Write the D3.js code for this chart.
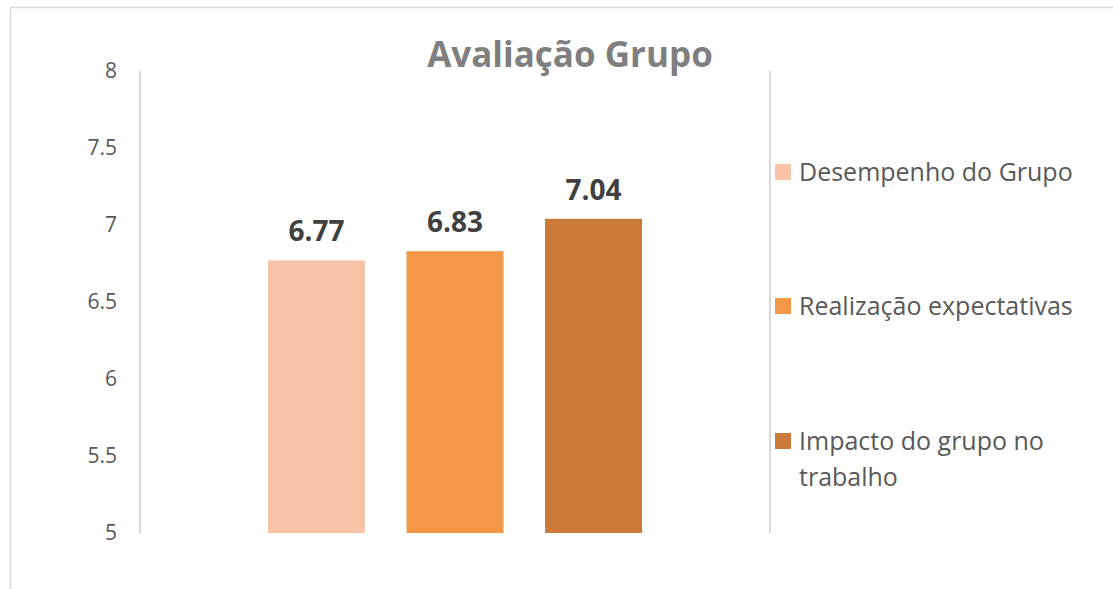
<!DOCTYPE html>
<html>
<head>
<meta charset="utf-8">
<script src="https://cdn.jsdelivr.net/npm/d3@7"></script>
<style>
  body { margin: 0; background: #fff; }
  svg { display: block; font-family: "Open Sans", sans-serif; }
</style>
</head>
<body>
<div id="chart"></div>
<script>
const series = ["Desempenho do Grupo", "Realização expectativas", "Impacto do grupo no trabalho"];
const values = [6.77, 6.83, 7.04];
const colors = ["#F9C3A8", "#F59748", "#CB7A3A"];
const yTicks = [5, 5.5, 6, 6.5, 7, 7.5, 8];
const legendLines = [["Desempenho do Grupo"], ["Realização expectativas"], ["Impacto do grupo no", "trabalho"]];

const W = 1113, H = 589;
const plot = { left: 140, right: 770, top: 71, bottom: 533 };

const svg = d3.select("#chart")
    .append("svg")
    .attr("width", W)
    .attr("height", H);

// chart border
svg.append("rect")
    .attr("x", 10.5).attr("y", 7.5)
    .attr("width", W + 20).attr("height", H + 20)
    .attr("fill", "#fff")
    .attr("stroke", "#d9d9d9")
    .attr("stroke-width", 1.5);

const y = d3.scaleLinear().domain([5, 8]).range([plot.bottom, plot.top]);
const x = d3.scaleBand()
    .domain(series)
    .range([plot.left, plot.right])
    .paddingInner(0.3)
    .paddingOuter(0.924);

// Y axis labels
const yAxis = svg.append("g")
    .attr("transform", `translate(${plot.left}, 0)`)
    .call(d3.axisLeft(y).tickValues(yTicks).tickSize(0).tickPadding(23).tickFormat(d => d));
yAxis.attr("font-family", null).attr("font-size", null);
yAxis.select(".domain").remove();
yAxis.selectAll("text")
    .style("font-size", "21px")
    .attr("fill", "#595959");

// plot area side lines
svg.selectAll("line.side")
    .data([plot.left, plot.right])
    .enter()
    .append("line")
    .attr("x1", d => d).attr("x2", d => d)
    .attr("y1", plot.top).attr("y2", plot.bottom)
    .attr("stroke", "#d9d9d9")
    .attr("stroke-width", 2);

// bars
svg.selectAll("rect.bar")
    .data(values)
    .enter()
    .append("rect")
    .attr("class", "bar")
    .attr("x", (d, i) => x(series[i]))
    .attr("y", d => y(d))
    .attr("width", x.bandwidth())
    .attr("height", d => y(5) - y(d))
    .attr("fill", (d, i) => colors[i]);

// data labels
svg.selectAll("text.val")
    .data(values)
    .enter()
    .append("text")
    .attr("x", (d, i) => x(series[i]) + x.bandwidth() / 2)
    .attr("y", d => y(d) - 19)
    .attr("text-anchor", "middle")
    .style("font-size", "28px")
    .style("font-weight", "bold")
    .attr("fill", "#404040")
    .text(d => d.toFixed(2));

// title
svg.append("text")
    .attr("x", 570)
    .attr("y", 67)
    .attr("text-anchor", "middle")
    .style("font-size", "35px")
    .style("font-weight", "bold")
    .attr("fill", "#7f7f7f")
    .text("Avaliação Grupo");

// legend
const legendY = [172, 306, 441];
const legend = svg.selectAll("g.legend")
    .data(series)
    .enter()
    .append("g")
    .attr("transform", (d, i) => `translate(775, ${legendY[i]})`);

legend.append("rect")
    .attr("x", 0).attr("y", -8)
    .attr("width", 16).attr("height", 16)
    .attr("fill", (d, i) => colors[i]);

legend.append("text")
    .attr("x", 24)
    .attr("y", 0)
    .style("font-size", "25px")
    .attr("fill", "#595959")
    .each(function (d, i) {
        const t = d3.select(this);
        legendLines[i].forEach((line, k) => {
            t.append("tspan")
                .attr("x", 24)
                .attr("dy", k === 0 ? "0.35em" : "1.45em")
                .text(line);
        });
    });
</script>
</body>
</html>
